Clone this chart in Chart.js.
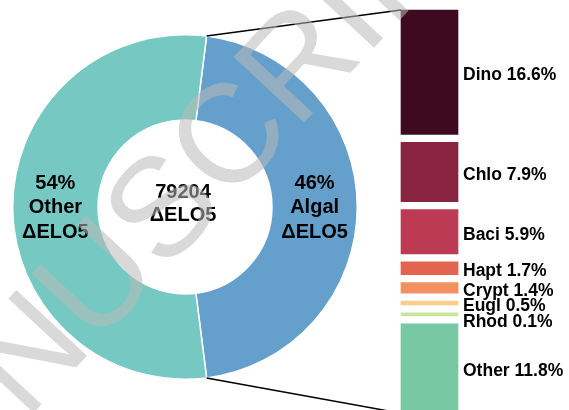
<!DOCTYPE html>
<html>
<head>
<meta charset="utf-8">
<script src="https://cdn.jsdelivr.net/npm/chart.js@4/dist/chart.umd.min.js"></script>
<style>
  html, body { margin: 0; padding: 0; background: #fff; }
  #wrap { position: relative; width: 569px; height: 410px; }
  #wrap canvas { position: absolute; left: 0; top: 0; }
</style>
</head>
<body>
<div id="wrap">
  <canvas id="ring" width="569" height="410"></canvas>
  <canvas id="stack" width="569" height="410"></canvas>
</div>
<script>
// ring: share of all ΔELO5 sequences
const ringNames = ['Algal', 'Other'];
const ringShares = [46, 54];
const ringTotal = 79204;

// stacked bar: algal groups inside the 46%
const groupNames = ['Dino', 'Chlo', 'Baci', 'Hapt', 'Crypt', 'Eugl', 'Rhod', 'Other'];
const groupShares = [16.6, 7.9, 5.9, 1.7, 1.4, 0.5, 0.1, 11.8];

const ringColors = ['#64a0cb', '#76c9c2'];
const groupColors = ['#3f0a1f', '#8a2443', '#bd3a55', '#e26550', '#f29060', '#f8cd8e', '#cde29c', '#78c8a3'];

const boldFont = 'bold 20px "Liberation Sans", Arial, sans-serif';
const labelFont = 'bold 17.5px "Liberation Sans", Arial, sans-serif';
const segGap = 8;

const ringText = {
    id: 'ringText',
    afterDatasetsDraw(chart) {
        const ctx = chart.ctx;
        const arcs = chart.getDatasetMeta(0).data;
        ctx.save();
        ctx.font = boldFont;
        ctx.fillStyle = '#000';
        ctx.textAlign = 'center';
        ctx.textBaseline = 'middle';
        arcs.forEach(function(arc, i) {
            const p = arc.getCenterPoint();
            const lines = [ringShares[i] + '%', ringNames[i], 'ΔELO5'];
            for (var j = 0; j < lines.length; ++j) {
                ctx.fillText(lines[j], p.x, p.y - 24 + j * 24.5);
            }
        });
        const cx = arcs[0].x, cy = arcs[0].y;
        ctx.fillText(String(ringTotal), cx - 2, cy - 15);
        ctx.fillText('ΔELO5', cx - 2, cy + 8.5);
        ctx.restore();
    }
};

const ringChart = new Chart('ring', {
    type: 'doughnut',
    data: {
        labels: ringNames,
        datasets: [{
            data: ringShares,
            backgroundColor: ringColors,
            borderColor: '#fff',
            borderWidth: 1.5,
            hoverOffset: 0,
        }]
    },
    options: {
        responsive: false,
        animation: false,
        devicePixelRatio: 1,
        events: [],
        // first slice centred on the right side
        rotation: 90 - ringShares[0] * 3.6 / 2,
        cutout: '50.5%',
        layout: { padding: { left: 12, right: 211, top: 34, bottom: 30 } },
        plugins: {
            legend: { display: false },
            tooltip: { enabled: false }
        }
    },
    plugins: [ringText]
});

// push each segment down so the stack has white gaps between groups
const stackGaps = {
    id: 'stackGaps',
    afterDatasetsUpdate(chart) {
        chart.data.datasets.forEach(function(ds, i) {
            const bar = chart.getDatasetMeta(i).data[0];
            bar.y += i * segGap;
            bar.base += i * segGap;
        });
    }
};

const stackText = {
    id: 'stackText',
    afterDraw(chart) {
        const ctx = chart.ctx;
        const bars = chart.data.datasets.map(function(ds, i) {
            return chart.getDatasetMeta(i).data[0];
        });

        // connector lines from the algal slice to the stack
        const arc = ringChart.getDatasetMeta(0).data[0];
        const R = arc.outerRadius;
        const left = bars[0].x - bars[0].width / 2;
        ctx.save();
        ctx.strokeStyle = '#000';
        ctx.lineWidth = 1.5;
        ctx.beginPath();
        ctx.moveTo(arc.x + R * Math.cos(arc.startAngle), arc.y + R * Math.sin(arc.startAngle));
        ctx.lineTo(left, Math.min(bars[0].y, bars[0].base));
        ctx.moveTo(arc.x + R * Math.cos(arc.endAngle), arc.y + R * Math.sin(arc.endAngle));
        const last = bars[bars.length - 1];
        ctx.lineTo(left, Math.max(last.y, last.base) + 1);
        ctx.stroke();

        // group labels, spread apart where segments are thin
        ctx.font = labelFont;
        ctx.fillStyle = '#000';
        ctx.textAlign = 'left';
        ctx.textBaseline = 'middle';
        var prev = -Infinity;
        bars.forEach(function(bar, i) {
            var y = (bar.y + bar.base) / 2 + 3;
            if (y < prev + 15.5) {
                y = prev + 15.5;
            }
            prev = y;
            ctx.fillText(groupNames[i] + ' ' + groupShares[i] + '%', bar.x + bar.width / 2 + 5, y);
        });

        // faint diagonal watermark
        ctx.translate(170, 210);
        ctx.rotate(-47 * Math.PI / 180);
        ctx.font = '140px "Liberation Sans", Arial, sans-serif';
        ctx.textAlign = 'center';
        ctx.fillStyle = 'rgba(186, 186, 186, 0.55)';
        ctx.fillText('MANUSCRIPT', 0, 0);
        ctx.restore();
    }
};

const stackTotal = groupShares.reduce(function(a, b) { return a + b; }, 0);

new Chart('stack', {
    type: 'bar',
    data: {
        labels: ['Algal'],
        datasets: groupNames.map(function(name, i) {
            return {
                label: name,
                data: [groupShares[i]],
                backgroundColor: groupColors[i],
                barPercentage: 1,
                categoryPercentage: 1,
                minBarLength: 3,
                clip: false,
            };
        })
    },
    options: {
        responsive: false,
        animation: false,
        devicePixelRatio: 1,
        events: [],
        layout: { padding: { left: 401, right: 111, top: 10, bottom: 7 * segGap } },
        scales: {
            x: { display: false, stacked: true },
            y: { display: false, stacked: true, reverse: true, min: 0, max: stackTotal }
        },
        plugins: {
            legend: { display: false },
            tooltip: { enabled: false }
        }
    },
    plugins: [stackGaps, stackText]
});
</script>
</body>
</html>
